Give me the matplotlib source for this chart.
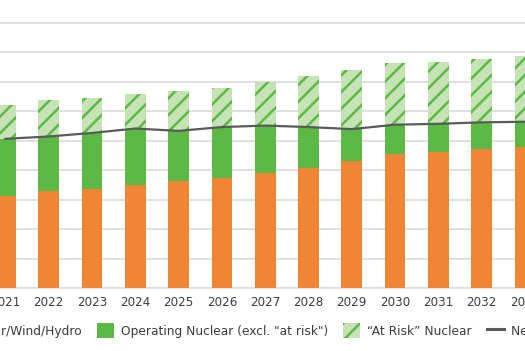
import matplotlib
matplotlib.use("Agg")
import matplotlib.pyplot as plt
from matplotlib.patches import Patch
from matplotlib.lines import Line2D

years = [2021, 2022, 2023, 2024, 2025, 2026, 2027, 2028, 2029, 2030, 2031, 2032, 2033]
renewables = [31.2, 32.8, 33.6, 35.1, 36.2, 37.3, 39.1, 40.7, 43.1, 45.4, 46.1, 47.1, 47.9]
operating_nuclear = [19.4, 18.6, 19.0, 19.0, 17.1, 17.3, 16.0, 13.9, 10.8, 10.0, 9.6, 9.1, 8.5]
at_risk_nuclear = [11.4, 12.3, 12.0, 11.6, 13.6, 13.4, 14.8, 17.2, 20.0, 20.8, 21.0, 21.4, 22.2]
net_load = [50.6, 51.4, 52.6, 54.1, 53.3, 54.6, 55.1, 54.6, 53.9, 55.4, 55.7, 56.2, 56.4]
tick_labels = [str(y) for y in years]
legend_labels = ["Solar/Wind/Hydro", 'Operating Nuclear (excl. "at risk")',
                 "\u201cAt Risk\u201d Nuclear", "Net Load"]

ORANGE = "#F08536"
GREEN = "#5DB946"
LIGHT = "#C6E3B5"
LINE = "#5A5A5A"
GRID = "#DDDDDD"
TEXT = "#3C3C3C"

plt.rcParams["font.family"] = ["DejaVu Sans"]
plt.rcParams["hatch.linewidth"] = 1.8
plt.rcParams["hatch.color"] = GREEN

W, H, DPI = 525, 351, 100
fig = plt.figure(figsize=(W / DPI, H / DPI), dpi=DPI)

base_px = 288.0
top_grid_px = 22.7
unit_px = (base_px - top_grid_px) / 90.0
ax = fig.add_axes([0, (H - base_px) / H, 1, base_px / H])
ax.set_ylim(0, base_px / unit_px)

spacing = 44.0
x2022 = 49.5
left = 2022 - x2022 / spacing
ax.set_xlim(left, left + W / spacing)

bw = 21.0 / spacing
bottom2 = [r for r in renewables]
bottom3 = [r + o for r, o in zip(renewables, operating_nuclear)]
ax.bar(years, renewables, width=bw, color=ORANGE, linewidth=0, zorder=2)
ax.bar(years, operating_nuclear, width=bw, bottom=bottom2, color=GREEN, linewidth=0, zorder=2)
ax.bar(years, at_risk_nuclear, width=bw, bottom=bottom3, facecolor=LIGHT,
       edgecolor=GREEN, linewidth=0, hatch="//", zorder=2)
ax.plot(years, net_load, color=LINE, linewidth=1.6, zorder=3)

ax.set_yticks(range(0, 100, 10))
ax.yaxis.grid(True, color=GRID, linewidth=1.3, zorder=0)
ax.axhline(0, color=GRID, linewidth=1.3, zorder=1, clip_on=False)
ax.set_axisbelow(True)
ax.tick_params(axis="y", left=False, labelleft=False)
ax.set_xticks(years)
ax.set_xticklabels(tick_labels, fontsize=8.6, color=TEXT)
ax.tick_params(axis="x", length=0, pad=6)
for s in ax.spines.values():
    s.set_visible(False)

handles = [Patch(facecolor=ORANGE, linewidth=0),
           Patch(facecolor=GREEN, linewidth=0),
           Patch(facecolor=LIGHT, edgecolor=GREEN, linewidth=0, hatch="//"),
           Line2D([], [], color=LINE, linewidth=2.2)]
fs = 8.8
em = fs * DPI / 72.0
leg = fig.legend(handles, legend_labels, ncol=4, loc="center left",
                 bbox_to_anchor=(0, 1 - 330.5 / H), frameon=False, fontsize=fs,
                 handlelength=17 / em, handleheight=17 / em, handletextpad=7 / em,
                 columnspacing=15 / em, borderpad=0, borderaxespad=0, labelcolor=TEXT)
fig.canvas.draw()
hb = leg.legend_handles[1].get_window_extent()
shift = 97.0 - hb.x0
leg.set_bbox_to_anchor((shift / W, 1 - 330.5 / H), transform=fig.transFigure)

fig.savefig("out.png", dpi=DPI)
